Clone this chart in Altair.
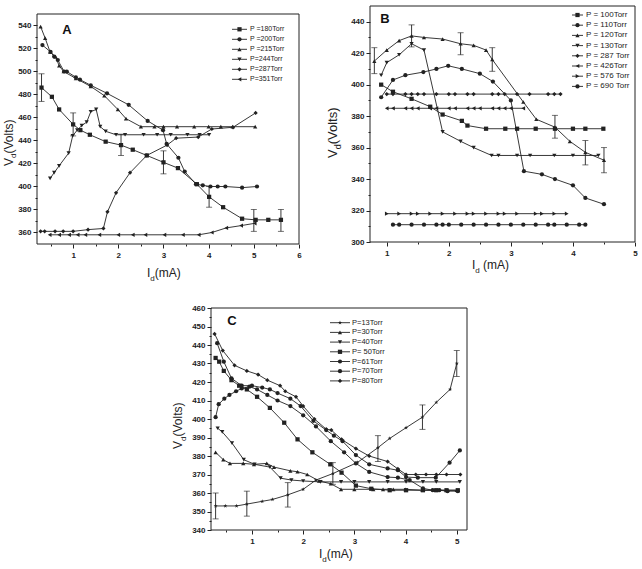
import altair as alt
import pandas as pd

INK = "#222222"
FONT = "Liberation Sans"
STAR = ("M0,-1L0.235,-0.324L0.951,-0.309L0.38,0.124L0.588,0.809L0,0.4"
        "L-0.588,0.809L-0.38,0.124L-0.951,-0.309L-0.235,-0.324Z")

# ---------------- Panel A ----------------
A_LABELS = ["P =180Torr", "P =200Torr", "P =215Torr", "P=244Torr", "P=287Torr", "P=351Torr"]
A_SHAPES = ["square", "circle", "triangle-up", "triangle-down", "diamond", "triangle-left"]

A180_I = [0.3, 0.53, 0.69, 1.0, 1.16, 1.37, 1.72, 2.06, 2.32, 2.63, 3.0, 3.32, 3.74, 4.01, 4.32, 4.74, 5.04, 5.32, 5.6]
A180_V = [486, 478, 467, 454, 449, 445, 439, 436, 432, 427, 421, 416, 402, 391, 382, 372, 371, 371, 371]
A200_I = [0.32, 0.5, 0.58, 0.66, 0.8, 0.86, 1.06, 1.15, 1.39, 1.75, 2.23, 2.65, 2.99, 3.07, 3.33, 3.47, 3.72, 3.87, 4.04, 4.2, 4.37, 4.74, 5.07]
A200_V = [523, 517, 513, 510, 500, 500, 495, 493, 488, 481, 471, 457, 449, 437, 425, 413, 402, 401, 400, 400, 400, 399, 400]
A215_I = [0.28, 0.38, 0.49, 0.61, 0.69, 0.79, 1.06, 1.39, 1.69, 1.99, 2.17, 2.5, 2.8, 3.0, 3.3, 3.68, 4.0, 4.27, 4.53, 5.03]
A215_V = [539, 529, 517, 513, 505, 500, 494, 487, 479, 467, 459, 452, 452, 452, 452, 452, 452, 452, 452, 452]
A244_I = [0.49, 0.58, 0.69, 0.9, 0.99, 1.09, 1.19, 1.3, 1.39, 1.51, 1.6, 1.72, 1.95, 2.15, 2.56, 2.86, 3.16, 3.53, 3.8, 4.01]
A244_V = [407, 412, 418, 429, 444, 449, 453, 456, 465, 467, 452, 448, 445, 445, 445, 445, 445, 445, 445, 445]
A287_I = [0.28, 0.37, 0.6, 0.78, 1.0, 1.33, 1.67, 1.76, 1.95, 2.26, 2.63, 3.08, 3.28, 3.77, 4.07, 4.54, 5.04]
A287_V = [361, 361, 361, 361, 361, 362.5, 363.5, 378, 394.5, 412, 427, 436, 442, 443, 450, 451.5, 464]
A351_I = [0.48, 0.69, 0.91, 1.1, 1.27, 1.58, 2.0, 2.32, 2.6, 3.02, 3.43, 3.78, 4.07, 4.39, 4.72, 5.02]
A351_V = [358, 358, 358, 358, 358, 358, 358, 358, 358, 358, 358, 358, 360, 364, 366, 368]

A_ERR_I = [0.3, 1.0, 2.06, 3.0, 4.01, 5.0, 5.6]
A_ERR_LO = [474, 444, 427, 411, 382, 361, 361]
A_ERR_HI = [498, 464, 445.5, 431, 400, 380, 380]

# ---------------- Panel B ----------------
B_LABELS = ["P = 100Torr", "P = 110Torr", "P = 120Torr", "P = 130Torr",
            "P = 287 Torr", "P = 426Torr", "P = 576 Torr", "P = 690 Torr"]
B_SHAPES = ["square", "circle", "triangle-up", "triangle-down",
            "diamond", "triangle-left", "triangle-right", "circle"]

B100_I = [0.91, 1.1, 1.4, 1.7, 1.9, 2.21, 2.3, 2.6, 2.91, 3.1, 3.4, 3.71, 4.0, 4.2, 4.49]
B100_V = [400, 395.5, 391, 386, 381, 377, 374, 372, 372, 372, 372, 372, 372, 372, 372]
B110_I = [0.91, 1.1, 1.3, 1.59, 1.8, 1.99, 2.21, 2.5, 2.71, 3.0, 3.21, 3.5, 3.71, 4.0, 4.2, 4.5]
B110_V = [392, 403, 406, 408, 410, 412, 410, 407, 402, 390, 345, 343, 340, 336, 328, 324]
B120_I = [0.8, 1.0, 1.2, 1.4, 1.6, 1.9, 2.19, 2.4, 2.6, 2.7, 3.2, 3.41, 3.71, 3.95, 4.2, 4.5]
B120_V = [415, 422, 428, 431, 430, 429, 426, 425, 422, 416, 389, 378, 373, 364, 357, 352]
B130_I = [0.91, 1.0, 1.2, 1.4, 1.6, 1.9, 2.19, 2.4, 2.69, 2.8, 3.1, 3.31, 3.7, 4.0, 4.41]
B130_V = [406, 414, 419, 426, 422, 370, 364, 360, 355, 355, 355, 355, 355, 355, 355]
B287_I = [1.0, 1.1, 1.3, 1.4, 1.5, 1.6, 1.8, 2.0, 2.1, 2.3, 2.4, 2.7, 2.8, 2.9, 3.1, 3.3, 3.6, 3.7, 3.8]
B287_V = [394, 394, 394, 394, 394, 394, 394, 394, 394, 394, 394, 394, 394, 394, 394, 394, 394, 394, 394]
B426_I = [1.0, 1.1, 1.3, 1.4, 1.5, 1.7, 1.8, 2.0, 2.1, 2.3, 2.4, 2.5, 2.7, 2.8, 2.9, 3.0, 3.2]
B426_V = [385, 385, 385, 385, 385, 385, 385, 385, 385, 385, 385, 385, 385, 385, 385, 385, 385]
B576_I = [1.0, 1.2, 1.4, 1.5, 1.7, 1.9, 2.1, 2.3, 2.4, 2.6, 2.8, 2.9, 3.1, 3.4, 3.5, 3.7, 3.9]
B576_V = [318, 318, 318, 318, 318, 318, 318, 318, 318, 318, 318, 318, 318, 318, 318, 318, 318]
B690_I = [1.1, 1.2, 1.4, 1.6, 1.8, 1.9, 2.0, 2.2, 2.4, 2.6, 2.8, 3.0, 3.2, 3.4, 3.6, 3.7, 3.9, 4.1, 4.2]
B690_V = [311, 311, 311, 311, 311, 311, 311, 311, 311, 311, 311, 311, 311, 311, 311, 311, 311, 311, 311]

B_ERR_I = [0.8, 1.4, 2.19, 2.7, 3.71, 4.2, 4.5]
B_ERR_LO = [407, 424, 419, 408.5, 366, 349, 344]
B_ERR_HI = [423.5, 438, 433, 423.5, 380.5, 364.5, 360]

# ---------------- Panel C ----------------
C_LABELS = ["P=13Torr", "P=30Torr", "P=40Torr", "P= 50Torr", "P=61Torr", "P=70Torr", "P=80Torr"]
C_SHAPES = [STAR, "triangle-up", "triangle-down", "square", "circle", "circle", "diamond"]

C13_I = [0.29, 0.48, 0.7, 0.9, 1.2, 1.4, 1.7, 2.0, 2.25, 2.58, 3.06, 3.46, 3.69, 4.01, 4.33, 4.6, 4.87, 5.0]
C13_V = [353, 353, 353, 354, 355.5, 356.5, 359, 362, 367, 370.5, 376.5, 384.5, 389.5, 395.3, 401, 409, 416, 430]
C30_I = [0.29, 0.44, 0.57, 0.83, 1.04, 1.29, 1.43, 1.75, 1.89, 2.08, 2.31, 2.54, 2.74, 3.0, 3.37, 3.56, 3.76, 4.0, 4.33, 4.58, 4.8, 5.0]
C30_V = [382, 378, 376, 376, 375.5, 376, 374, 372, 371.5, 370, 366.5, 365, 362, 362, 362, 362, 362, 362, 361.5, 361.5, 361.5, 361.5]
C40_I = [0.33, 0.42, 0.61, 0.84, 1.05, 1.35, 1.56, 1.77, 2.0, 2.34, 2.74, 3.0, 3.29, 3.65, 4.01, 4.34, 4.6, 5.06]
C40_V = [395, 393, 387, 378, 375.5, 374, 368, 367, 366.5, 366, 366, 366, 366, 366, 366, 366, 366, 366]
C50_I = [0.29, 0.36, 0.45, 0.6, 0.75, 0.9, 1.1, 1.35, 1.63, 1.89, 2.18, 2.53, 2.75, 3.03, 3.33, 3.69, 4.01, 4.34, 4.6, 4.8, 5.02]
C50_V = [433, 431, 426, 421, 418, 416, 412, 406, 398, 389, 382, 375.5, 371, 364, 362.3, 361.5, 361.5, 361.5, 361.5, 361.5, 361.5]
C61_I = [0.29, 0.35, 0.46, 0.56, 0.69, 0.8, 0.95, 1.1, 1.3, 1.5, 1.75, 2.0, 2.25, 2.54, 2.8, 3.03, 3.29, 3.65, 3.85, 4.08, 4.34, 4.53, 4.66, 4.82, 5.02]
C61_V = [401, 408, 411, 413, 415, 416.5, 417.5, 416, 413, 410, 407, 402, 396, 388, 382, 376, 371.4, 368.6, 368.3, 367, 362.5, 361.5, 361.5, 361, 361]
C70_I = [0.32, 0.45, 0.6, 0.8, 1.0, 1.2, 1.35, 1.5, 1.75, 1.95, 2.2, 2.45, 2.6, 2.77, 3.03, 3.29, 3.65, 3.85, 4.01, 4.24, 4.59, 4.86, 5.06]
C70_V = [441, 431, 422, 418, 418, 417, 416, 414, 411, 407, 399, 394, 391, 388, 380.5, 375.5, 373.3, 372.3, 368.6, 368.3, 368.3, 376.4, 383]
C80_I = [0.27, 0.43, 0.66, 0.9, 1.12, 1.3, 1.55, 1.65, 1.86, 2.0, 2.22, 2.45, 2.55, 2.75, 3.03, 3.29, 3.65, 3.85, 4.01, 4.2, 4.4, 4.6, 4.8, 5.07]
C80_V = [446, 437, 429, 426, 424, 421, 418, 415, 412, 407, 400, 394.5, 394, 389, 384, 380, 377, 373, 370, 370, 370, 370, 370, 370]

C_ERR_I = [0.29, 0.9, 1.7, 2.58, 3.46, 4.33, 5.0]
C_ERR_LO = [346, 347.5, 352.4, 364.7, 377, 394.4, 423]
C_ERR_HI = [360, 361, 365.6, 376.4, 391, 407.6, 437]

# Whole drawing area shared by the three panels (each panel gets its own scales)
W, H = 598, 524

# Approximate Liberation Sans advance widths (em units) for composing titles
ADV = {"V": 0.667, "d": 0.556, "I": 0.278, "(": 0.333, ")": 0.333, "o": 0.556,
       "l": 0.222, "t": 0.278, "s": 0.5, "m": 0.833, "A": 0.667, " ": 0.278}


def text_width(s, size):
    return sum(ADV.get(c, 0.55) for c in s) * size


def series_frame(labels, columns):
    rows = []
    for name, (xs, ys) in zip(labels, columns):
        for k, (i, v) in enumerate(zip(xs, ys)):
            rows.append({"series": name, "k": k, "I": i, "V": v})
    return pd.DataFrame(rows)


def sub_title(main, sub, rest, x, y, size, vertical, gap=0.0):
    """Axis title with a subscript, e.g. V_d(Volts), drawn as text pieces."""
    sub_size = round(size * 0.68)
    drop = size * 0.3
    w1 = text_width(main, size)
    w2 = text_width(sub, sub_size) + gap
    pieces = [(main, size, 0.0, 0.0), (sub, sub_size, w1, drop), (rest, size, w1 + w2, 0.0)]
    out = []
    for txt, fs, adv, dr in pieces:
        if vertical:
            px, py, ang = x + dr, y - adv, 270
        else:
            px, py, ang = x + adv, y + dr, 0
        out.append(
            alt.Chart(pd.DataFrame({"t": [txt]}))
            .mark_text(align="left", baseline="alphabetic", angle=ang,
                       fontSize=fs, font=FONT, color=INK)
            .encode(x=alt.value(px), y=alt.value(py), text="t:N")
        )
    return out


def panel(p):
    """One framed panel placed at (left, top) inside the shared W x H area."""
    left, top, w, h = p["box"]
    x0, x1 = p["xdom"]
    y0, y1 = p["ydom"]
    kx = w / (x1 - x0)
    ky = h / (y1 - y0)
    below = H - top - h
    xdom = [x0 - left / kx, x1 + (W - left - w) / kx]
    ydom = [y0 - below / ky, y1 + top / ky]

    df = series_frame(p["labels"], p["cols"])
    err = pd.DataFrame({"I": p["err"][0], "lo": p["err"][1], "hi": p["err"][2]})
    xs = alt.Scale(domain=xdom, nice=False, zero=False)
    ys = alt.Scale(domain=ydom, nice=False, zero=False)
    shape = alt.Shape("series:N", legend=None,
                      scale=alt.Scale(domain=p["labels"], range=p["shapes"]))
    lab = dict(labelFont=FONT, labelFontSize=8, labelFontWeight="bold", labelColor=INK,
               labelFlush=False, labelOverlap=False, tickColor=INK, tickWidth=1,
               domain=False, grid=False, title=None)
    ax_x = alt.Axis(orient="bottom", values=p["xmaj"], tickSize=4, labelPadding=3,
                    offset=-below, **lab)
    ax_y = alt.Axis(orient="left", values=p["ymaj"], tickSize=4, labelPadding=2,
                    offset=-left, **lab)
    mx_x = alt.Axis(orient="bottom", values=p["xmin"], tickSize=2, labels=False,
                    offset=-below, tickColor=INK, domain=False, grid=False, title=None)
    mx_y = alt.Axis(orient="left", values=p["ymin"], tickSize=2, labels=False,
                    offset=-left, tickColor=INK, domain=False, grid=False, title=None)

    base = alt.Chart(df)
    X = lambda ax=None, f="I:Q": alt.X(f, scale=xs, axis=ax)
    Y = lambda ax=None, f="V:Q": alt.Y(f, scale=ys, axis=ax)

    lines = base.mark_line(color=INK, strokeWidth=0.9).encode(
        x=X(ax_x), y=Y(ax_y), detail="series:N", order="k:Q")
    minor = base.mark_point(opacity=0).encode(x=X(mx_x), y=Y(mx_y))
    pts = base.mark_point(filled=True, color=INK, opacity=1, size=18).encode(
        x=X(), y=Y(), shape=shape)

    ebase = alt.Chart(err)
    bars = ebase.mark_rule(color=INK, strokeWidth=0.9).encode(
        x=X(), y=Y(None, "lo:Q"), y2="hi:Q")
    cap_lo = ebase.mark_tick(orient="horizontal", color=INK, size=6, thickness=0.9).encode(
        x=X(), y=Y(None, "lo:Q"))
    cap_hi = ebase.mark_tick(orient="horizontal", color=INK, size=6, thickness=0.9).encode(
        x=X(), y=Y(None, "hi:Q"))

    frame = alt.Chart(pd.DataFrame({"f": [0]})).mark_rect(
        fillOpacity=0, stroke=INK, strokeWidth=1).encode(
        x=alt.value(left), x2=alt.value(left + w), y=alt.value(top), y2=alt.value(top + h))

    lg = p["legend"]
    legdf = pd.DataFrame({"series": p["labels"], "k": list(range(len(p["labels"])))})
    lbase = alt.Chart(legdf).transform_calculate(
        ly=f"{lg['y0'] + top} + datum.k * {lg['dy']}")
    LY = alt.Y("ly:Q", scale=None, axis=None)
    lrule = lbase.mark_rule(color=INK, strokeWidth=0.9).encode(
        x=alt.value(lg["x0"] + left), x2=alt.value(lg["x1"] + left), y=LY)
    lpts = lbase.mark_point(filled=True, color=INK, opacity=1, size=18).encode(
        x=alt.value((lg["x0"] + lg["x1"]) / 2 + left), y=LY, shape=shape)
    ltxt = lbase.mark_text(align="left", baseline="middle", font=FONT,
                           fontSize=lg["fs"], color=INK).encode(
        x=alt.value(lg["xt"] + left), y=LY, text="series:N")

    letter = alt.Chart(pd.DataFrame({"t": [p["letter"]]})).mark_text(
        align="center", baseline="middle", font=FONT, fontSize=13,
        fontWeight="bold", color="#111111").encode(
        x=alt.value(p["letter_xy"][0] + left), y=alt.value(p["letter_xy"][1] + top),
        text="t:N")

    xt_x, xt_y, xt_s = p["xt"]
    yt_x, yt_y, yt_s = p["yt"]
    layers = [frame, lines, minor, pts, bars, cap_lo, cap_hi, lrule, lpts, ltxt, letter]
    layers += sub_title("I", "d", "(mA)", xt_x + left, xt_y + top, xt_s, vertical=False,
                        gap=p.get("xgap", 0.0))
    layers += sub_title("V", "d", "(Volts)", yt_x + left, yt_y + top, yt_s, vertical=True)

    return alt.layer(*layers).resolve_axis(x="independent", y="independent")


panel_a = panel(dict(
    labels=A_LABELS, shapes=A_SHAPES,
    cols=[(A180_I, A180_V), (A200_I, A200_V), (A215_I, A215_V),
          (A244_I, A244_V), (A287_I, A287_V), (A351_I, A351_V)],
    err=(A_ERR_I, A_ERR_LO, A_ERR_HI),
    box=(0, 8, 262, 230), xdom=[0.2, 6], ydom=[350, 550],
    xmaj=[1, 2, 3, 4, 5, 6], xmin=[0.5, 1.5, 2.5, 3.5, 4.5, 5.5],
    ymaj=[360, 380, 400, 420, 440, 460, 480, 500, 520, 540],
    ymin=[370, 390, 410, 430, 450, 470, 490, 510, 530],
    letter="A", letter_xy=(30, 16),
    legend=dict(x0=195, x1=210, xt=213, y0=15.3, dy=10, fs=7),
    xt=(110, 263, 12), yt=(-24.5, 152, 12),
))

panel_b = panel(dict(
    labels=B_LABELS, shapes=B_SHAPES,
    cols=[(B100_I, B100_V), (B110_I, B110_V), (B120_I, B120_V), (B130_I, B130_V),
          (B287_I, B287_V), (B426_I, B426_V), (B576_I, B576_V), (B690_I, B690_V)],
    err=(B_ERR_I, B_ERR_LO, B_ERR_HI),
    box=(333, 0, 265, 236), xdom=[0.73, 5], ydom=[300, 450],
    xmaj=[1, 2, 3, 4, 5], xmin=[1.5, 2.5, 3.5, 4.5],
    ymaj=[300, 320, 340, 360, 380, 400, 420, 440],
    ymin=[310, 330, 350, 370, 390, 410, 430],
    letter="B", letter_xy=(15, 13),
    legend=dict(x0=202, x1=213, xt=216, y0=9, dy=10.2, fs=8),
    xt=(102, 263, 12), xgap=3.3, yt=(-33, 152, 13),
))

panel_c = panel(dict(
    labels=C_LABELS, shapes=C_SHAPES,
    cols=[(C13_I, C13_V), (C30_I, C30_V), (C40_I, C40_V), (C50_I, C50_V),
          (C61_I, C61_V), (C70_I, C70_V), (C80_I, C80_V)],
    err=(C_ERR_I, C_ERR_LO, C_ERR_HI),
    box=(174, 302, 256, 222), xdom=[0.2, 5.2], ydom=[340, 460],
    xmaj=[1, 2, 3, 4, 5], xmin=[0.5, 1.5, 2.5, 3.5, 4.5],
    ymaj=[340, 350, 360, 370, 380, 390, 400, 410, 420, 430, 440, 450, 460],
    ymin=[345, 355, 365, 375, 385, 395, 405, 415, 425, 435, 445, 455],
    letter="C", letter_xy=(21, 13),
    legend=dict(x0=119, x1=139, xt=141, y0=14.7, dy=9.7, fs=7.5),
    xt=(108, 250, 12), yt=(-29, 141, 12),
))

chart = alt.layer(panel_a, panel_b, panel_c).resolve_scale(
    x="independent", y="independent", shape="independent"
).resolve_axis(x="independent", y="independent").properties(
    width=W, height=H,
    padding={"left": 2, "top": 5, "right": 0, "bottom": 0},
    background="white",
).configure_view(stroke="transparent")

chart.save("out.html", embed_options={"renderer": "svg", "actions": False})
